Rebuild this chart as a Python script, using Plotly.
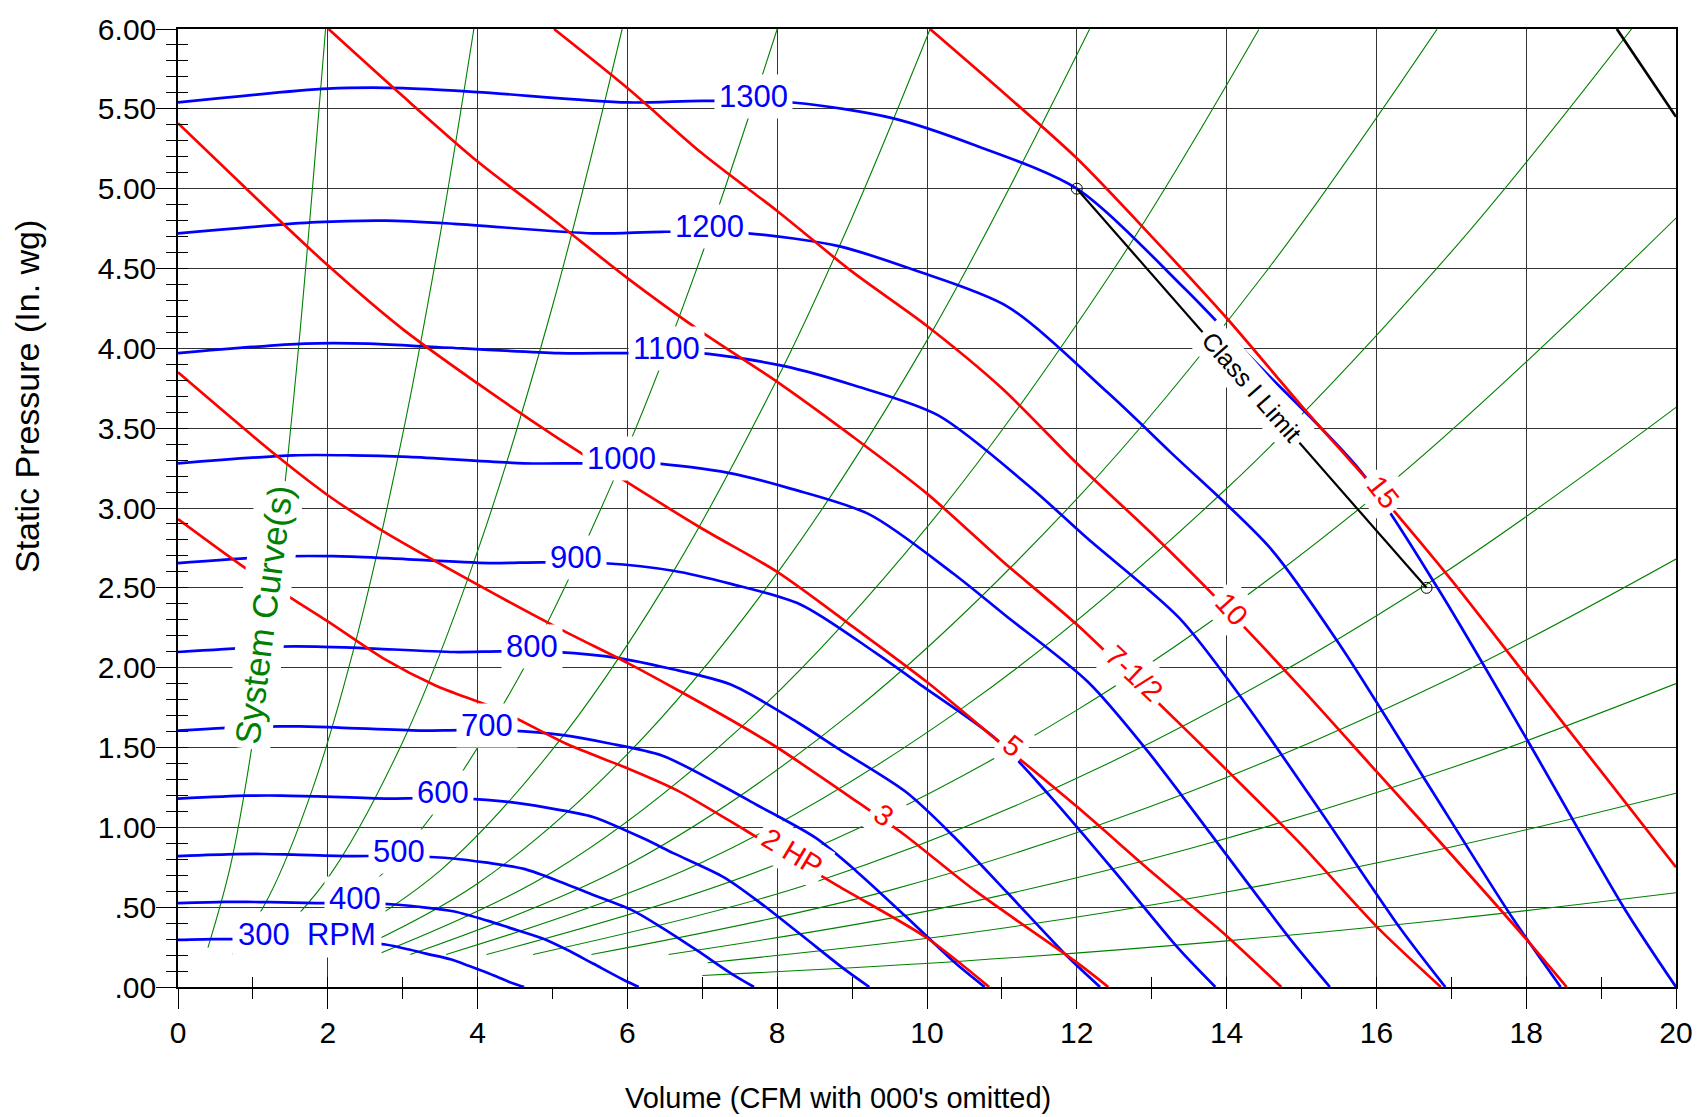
import plotly.graph_objects as go

# ---------------- data ----------------
rpm_labels = ["1300", "1200", "1100", "1000", "900", "800", "700", "600", "500", "400", "300"]

rpm1300_x = [0, 2.0, 3.0, 4.0, 6.0, 7.0, 8.24, 9.55, 10.65, 12.0, 13.45, 14.35, 15.8, 16.82, 18.01, 19.3, 20.0]
rpm1300_y = [5.54, 5.626, 5.63, 5.605, 5.54, 5.55, 5.538, 5.44, 5.27, 5.0, 4.37, 3.93, 3.225, 2.497, 1.55, 0.50, 0.0]
rpm1200_x = [0, 1.85, 2.77, 3.69, 5.54, 6.46, 7.61, 8.82, 9.83, 11.08, 12.42, 13.25, 14.58, 15.53, 16.62, 17.82, 18.46]
rpm1200_y = [4.72, 4.79, 4.80, 4.78, 4.72, 4.73, 4.72, 4.64, 4.49, 4.26, 3.72, 3.35, 2.75, 2.13, 1.32, 0.43, 0.0]
rpm1100_x = [0, 1.69, 2.54, 3.38, 5.08, 5.92, 6.97, 8.08, 9.01, 10.15, 11.38, 12.14, 13.37, 14.23, 15.24, 16.33, 16.92]
rpm1100_y = [3.97, 4.03, 4.03, 4.01, 3.97, 3.97, 3.97, 3.89, 3.77, 3.58, 3.13, 2.81, 2.31, 1.79, 1.11, 0.36, 0.0]
rpm1000_x = [0, 1.54, 2.31, 3.08, 4.62, 5.38, 6.34, 7.35, 8.19, 9.23, 10.35, 11.04, 12.15, 12.94, 13.85, 14.85, 15.38]
rpm1000_y = [3.28, 3.33, 3.33, 3.32, 3.28, 3.28, 3.28, 3.22, 3.12, 2.96, 2.59, 2.33, 1.91, 1.48, 0.92, 0.30, 0.0]
rpm900_x = [0, 1.38, 2.08, 2.77, 4.15, 4.85, 5.70, 6.61, 7.37, 8.31, 9.31, 9.94, 10.94, 11.64, 12.47, 13.36, 13.85]
rpm900_y = [2.655, 2.697, 2.698, 2.686, 2.655, 2.66, 2.654, 2.607, 2.526, 2.396, 2.094, 1.884, 1.546, 1.197, 0.743, 0.240, 0.0]
rpm800_x = [0, 1.23, 1.85, 2.46, 3.69, 4.31, 5.07, 5.88, 6.55, 7.38, 8.28, 8.83, 9.72, 10.35, 11.08, 11.88, 12.31]
rpm800_y = [2.098, 2.131, 2.132, 2.123, 2.098, 2.102, 2.097, 2.060, 1.996, 1.894, 1.655, 1.488, 1.221, 0.946, 0.587, 0.189, 0.0]
rpm700_x = [0, 1.08, 1.62, 2.15, 3.23, 3.77, 4.44, 5.14, 5.73, 6.46, 7.24, 7.73, 8.51, 9.06, 9.70, 10.39, 10.77]
rpm700_y = [1.606, 1.631, 1.632, 1.625, 1.606, 1.609, 1.606, 1.577, 1.528, 1.450, 1.267, 1.140, 0.935, 0.724, 0.449, 0.145, 0.0]
rpm600_x = [0, 0.92, 1.38, 1.85, 2.77, 3.23, 3.80, 4.41, 4.92, 5.54, 6.21, 6.62, 7.29, 7.76, 8.31, 8.91, 9.23]
rpm600_y = [1.180, 1.198, 1.199, 1.194, 1.180, 1.182, 1.180, 1.159, 1.123, 1.065, 0.931, 0.837, 0.687, 0.532, 0.330, 0.107, 0.0]
rpm500_x = [0, 0.77, 1.15, 1.54, 2.31, 2.69, 3.17, 3.67, 4.10, 4.62, 5.17, 5.52, 6.08, 6.47, 6.93, 7.42, 7.69]
rpm500_y = [0.820, 0.832, 0.833, 0.829, 0.820, 0.821, 0.819, 0.805, 0.780, 0.740, 0.647, 0.581, 0.477, 0.369, 0.229, 0.074, 0.0]
rpm400_x = [0, 0.62, 0.92, 1.23, 1.85, 2.15, 2.54, 2.94, 3.28, 3.69, 4.14, 4.42, 4.86, 5.18, 5.54, 5.94, 6.15]
rpm400_y = [0.525, 0.533, 0.533, 0.531, 0.525, 0.525, 0.524, 0.515, 0.499, 0.473, 0.414, 0.372, 0.305, 0.236, 0.147, 0.047, 0.0]
rpm300_x = [0, 0.46, 0.69, 0.92, 1.38, 1.62, 1.90, 2.20, 2.46, 2.77, 3.10, 3.31, 3.65, 3.88, 4.16, 4.45, 4.62]
rpm300_y = [0.295, 0.300, 0.300, 0.299, 0.295, 0.296, 0.295, 0.290, 0.281, 0.266, 0.233, 0.209, 0.172, 0.133, 0.083, 0.027, 0.0]

hp2_x = [0, 1.0, 2.0, 2.77, 3.43, 4.31, 5.2, 6.0, 6.67, 7.58, 8.80, 9.99, 10.83]
hp2_y = [2.93, 2.59, 2.29, 2.05, 1.89, 1.73, 1.52, 1.37, 1.23, 0.98, 0.636, 0.31, 0.0]
hp3_x = [0, 1.31, 2.0, 2.72, 4.0, 5.11, 6.0, 6.67, 7.54, 8.0, 9.08, 9.68, 10.65, 11.98, 12.42]
hp3_y = [3.85, 3.33, 3.08, 2.86, 2.52, 2.24, 2.03, 1.86, 1.63, 1.50, 1.156, 0.96, 0.60, 0.16, 0.0]
hp5_x = [0, 1.0, 2.0, 3.0, 4.0, 5.0, 6.0, 7.0, 8.0, 9.0, 10.0, 11.0, 12.0, 13.0, 14.0, 14.73]
hp5_y = [5.41, 4.96, 4.52, 4.12, 3.78, 3.46, 3.16, 2.87, 2.60, 2.26, 1.91, 1.52, 1.13, 0.72, 0.32, 0.0]
hp75_x = [2.01, 3.0, 4.0, 5.0, 6.0, 7.0, 8.0, 9.0, 10.0, 11.0, 12.0, 13.0, 14.0, 15.0, 16.0, 16.86]
hp75_y = [6.0, 5.58, 5.17, 4.81, 4.44, 4.10, 3.79, 3.45, 3.09, 2.67, 2.27, 1.82, 1.36, 0.89, 0.38, 0.0]
hp10_x = [5.02, 6.0, 7.0, 8.0, 9.0, 10.0, 11.0, 12.0, 13.0, 14.0, 15.0, 16.0, 17.0, 18.0, 18.54]
hp10_y = [6.0, 5.63, 5.22, 4.86, 4.48, 4.14, 3.75, 3.28, 2.84, 2.37, 1.87, 1.35, 0.83, 0.30, 0.0]
hp15_x = [10.04, 11.0, 12.0, 13.0, 14.0, 15.0, 16.0, 17.0, 18.0, 19.0, 20.0]
hp15_y = [6.0, 5.61, 5.19, 4.70, 4.19, 3.64, 3.11, 2.55, 1.95, 1.35, 0.75]

sys_curves = [
    ([0.40, 0.7, 1.0, 1.3, 1.6, 1.97], [0.247, 0.758, 1.546, 2.613, 3.958, 6.0]),
    ([0.73, 1.2, 1.8, 2.4, 3.0, 3.5, 3.95], [0.205, 0.554, 1.246, 2.215, 3.461, 4.711, 6.0]),
    ([1.09, 2.0, 3.0, 4.0, 5.0, 5.93], [0.203, 0.682, 1.535, 2.730, 4.265, 6.0]),
    ([1.47, 3.0, 4.5, 6.0, 7.0, 8.0], [0.203, 0.844, 1.898, 3.375, 4.594, 6.0]),
    ([1.85, 3.5, 5.0, 6.5, 8.0, 9.0, 10.04], [0.204, 0.729, 1.488, 2.514, 3.808, 4.820, 5.998]),
    ([2.24, 4.0, 6.0, 8.0, 10.0, 12.17], [0.203, 0.648, 1.458, 2.592, 4.05, 5.998]),
    ([2.66, 5.0, 7.5, 10.0, 12.5, 14.43], [0.204, 0.72, 1.62, 2.88, 4.5, 5.997]),
    ([3.1, 6.0, 9.0, 12.0, 14.5, 16.81], [0.204, 0.764, 1.720, 3.057, 4.464, 5.999]),
    ([3.58, 7.0, 10.5, 14.0, 17.0, 19.41], [0.204, 0.781, 1.756, 3.122, 4.604, 6.002]),
    ([4.12, 8.0, 12.0, 16.0, 20.0], [0.204, 0.771, 1.734, 3.082, 4.816]),
    ([4.74, 8.5, 12.5, 16.5, 20.0], [0.204, 0.656, 1.418, 2.471, 3.63]),
    ([5.52, 9.5, 13.5, 17.0, 20.0], [0.204, 0.605, 1.221, 1.936, 2.68]),
    ([6.55, 10.0, 13.5, 17.0, 20.0], [0.204, 0.475, 0.866, 1.373, 1.90]),
    ([7.07, 10.5, 14.0, 17.0, 20.0], [0.152, 0.335, 0.595, 0.877, 1.214]),
    ([7.0, 10.5, 14.0, 17.0, 20.0], [0.072, 0.163, 0.289, 0.426, 0.59]),
]

class1_x = [12.0, 16.67]
class1_y = [5.0, 2.5]
class2_x = [19.21, 20.0]
class2_y = [6.0, 5.45]

x_tickvals = [0, 2, 4, 6, 8, 10, 12, 14, 16, 18, 20]
x_ticktext = ["0", "2", "4", "6", "8", "10", "12", "14", "16", "18", "20"]
y_tickvals = [0, 0.5, 1.0, 1.5, 2.0, 2.5, 3.0, 3.5, 4.0, 4.5, 5.0, 5.5, 6.0]
y_ticktext = [".00", ".50", "1.00", "1.50", "2.00", "2.50", "3.00", "3.50", "4.00", "4.50", "5.00", "5.50", "6.00"]

# label positions (data coords) for curve labels
rpm_label_pos = {
    "1300": (7.69, 5.58), "1200": (7.09, 4.76), "1100": (6.52, 4.0), "1000": (5.92, 3.31),
    "900": (5.32, 2.69), "800": (4.72, 2.13), "700": (4.12, 1.64), "600": (3.54, 1.22),
    "500": (2.95, 0.85), "400": (2.36, 0.555),
}
hp_labels = [("2 HP", 8.2, 0.845, 31), ("3", 9.42, 1.08, 35), ("5", 11.15, 1.51, 38),
             ("7-1/2", 12.76, 1.965, 43), ("10", 14.07, 2.37, 48), ("15", 16.09, 3.1, 52)]

FONT = "Liberation Sans, Arial, sans-serif"
BLUE = "#0000ff"
RED = "#ff0000"
GREEN = "#008000"

fig = go.Figure()

for xs, ys in sys_curves:
    fig.add_trace(go.Scatter(x=xs, y=ys, mode="lines", line=dict(color=GREEN, width=1.1, shape="spline"),
                             hoverinfo="skip", showlegend=False))

rpm_series = [(rpm1300_x, rpm1300_y), (rpm1200_x, rpm1200_y), (rpm1100_x, rpm1100_y), (rpm1000_x, rpm1000_y),
              (rpm900_x, rpm900_y), (rpm800_x, rpm800_y), (rpm700_x, rpm700_y), (rpm600_x, rpm600_y),
              (rpm500_x, rpm500_y), (rpm400_x, rpm400_y), (rpm300_x, rpm300_y)]
for name, (xs, ys) in zip(rpm_labels, rpm_series):
    fig.add_trace(go.Scatter(x=xs, y=ys, mode="lines", name=name,
                             line=dict(color=BLUE, width=2.7, shape="spline", smoothing=0.8),
                             showlegend=False))

for name, xs, ys in [("2", hp2_x, hp2_y), ("3", hp3_x, hp3_y), ("5", hp5_x, hp5_y),
                     ("7-1/2", hp75_x, hp75_y), ("10", hp10_x, hp10_y), ("15", hp15_x, hp15_y)]:
    fig.add_trace(go.Scatter(x=xs, y=ys, mode="lines", name=name + " HP",
                             line=dict(color=RED, width=2.7, shape="spline", smoothing=0.8),
                             showlegend=False))

fig.add_trace(go.Scatter(x=class1_x, y=class1_y, mode="lines+markers",
                         line=dict(color="black", width=2.2),
                         marker=dict(symbol="circle-open", size=11, color="black", line=dict(width=1)),
                         showlegend=False))
fig.add_trace(go.Scatter(x=class2_x, y=class2_y, mode="lines", line=dict(color="black", width=2.7),
                         showlegend=False))

ann = []
for lab, (lx, ly) in rpm_label_pos.items():
    ann.append(dict(x=lx, y=ly, text=lab, showarrow=False, bgcolor="white", borderpad=4,
                    font=dict(family=FONT, size=31, color=BLUE)))
ann.append(dict(x=1.72, y=0.33, text="300\u00a0\u00a0RPM", showarrow=False, bgcolor="white", borderpad=5,
                font=dict(family=FONT, size=31, color=BLUE)))
for t, lx, ly, ang in hp_labels:
    ann.append(dict(x=lx, y=ly, text=t, textangle=ang, showarrow=False, bgcolor="white", borderpad=5,
                    font=dict(family=FONT, size=29, color=RED)))
ann.append(dict(x=14.34, y=3.76, text="Class I Limit", textangle=48.8, showarrow=False, bgcolor="white",
                borderpad=5, font=dict(family=FONT, size=25, color="black")))
ann.append(dict(x=1.15, y=2.33, text="System Curve(s)", textangle=-82.5, showarrow=False, bgcolor="white",
                borderpad=4, font=dict(family=FONT, size=35, color=GREEN)))
ann.append(dict(xref="paper", yref="paper", x=0.4403, y=-0.1157, xanchor="center", yanchor="middle",
                text="Volume (CFM with 000's omitted)",
                showarrow=False, font=dict(family=FONT, size=29, color="black")))
ann.append(dict(xref="paper", yref="paper", x=-0.1007, y=0.616, xanchor="center", yanchor="middle",
                text="Static Pressure (In. wg)", textangle=-90,
                showarrow=False, font=dict(family=FONT, size=34, color="black")))

axis_common = dict(showline=True, linecolor="black", linewidth=1.5, mirror=True, zeroline=False)
fig.update_layout(
    width=1705, height=1117,
    margin=dict(l=178, r=22, t=25, b=130),
    paper_bgcolor="white", plot_bgcolor="white",
    font=dict(family=FONT, size=30, color="black"),
    annotations=ann,
    xaxis=dict(range=[0, 20], tickvals=x_tickvals, ticktext=x_ticktext, ticks="outside", ticklen=20,
               tickcolor="black", showgrid=True, gridcolor="#333333", gridwidth=1.2,
               tickfont=dict(family=FONT, size=30), ticklabelstandoff=-2,
               minor=dict(dtick=1, ticks="outside", ticklen=10, tickcolor="black", showgrid=False),
               **axis_common),
    yaxis=dict(range=[0, 6], tickvals=y_tickvals, ticktext=y_ticktext, ticks="outside", ticklen=20,
               tickcolor="black", showgrid=True, gridcolor="#333333", gridwidth=1.2,
               tickfont=dict(family=FONT, size=30), ticklabelstandoff=-6,
               minor=dict(dtick=0.1, ticks="outside", ticklen=10, tickcolor="black", showgrid=False),
               **axis_common),
    xaxis2=dict(range=[0, 20], overlaying="x", showticklabels=False, showgrid=False, zeroline=False,
                ticks="", minor=dict(dtick=1, ticks="inside", ticklen=10, tickcolor="black")),
    yaxis2=dict(range=[0, 6], overlaying="y", showticklabels=False, showgrid=False, zeroline=False,
                ticks="", minor=dict(dtick=0.1, ticks="inside", ticklen=10, tickcolor="black")),
)
# invisible trace to activate the overlay axes carrying the inner minor ticks
fig.add_trace(go.Scatter(x=[0], y=[0], xaxis="x2", yaxis="y2", mode="markers",
                         marker=dict(opacity=0), hoverinfo="skip", showlegend=False))

fig.write_html("out.html", config={"displayModeBar": False},
               post_script="document.body.style.margin='0';document.body.style.overflow='hidden';")
